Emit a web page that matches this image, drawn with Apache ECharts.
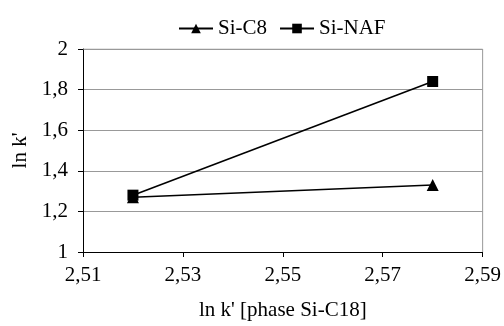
<!DOCTYPE html>
<html>
<head>
<meta charset="utf-8">
<script src="https://cdn.jsdelivr.net/npm/echarts@6/dist/echarts.min.js"></script>
<style>
  html, body { margin: 0; padding: 0; background: #fff; }
  #chart { width: 504px; height: 326px; }
</style>
</head>
<body>
<div id="chart"></div>
<script>
var xValues = [2.52, 2.58];
var siC8 = [1.27, 1.33];
var siNAF = [1.28, 1.84];
var seriesNames = ['Si-C8', 'Si-NAF'];

var font = '"Liberation Serif", "DejaVu Serif", serif';

function comma(v) {
  return String(Math.round(v * 100) / 100).replace('.', ',');
}
function pairs(ys) {
  return xValues.map(function (x, i) { return [x, ys[i]]; });
}

var myChart = echarts.init(document.getElementById('chart'));
var option = {
  animation: false,
  backgroundColor: '#fff',
  textStyle: { fontFamily: font, color: '#000' },
  legend: {
    top: 13,
    left: 173,
    itemWidth: 34,
    itemHeight: 12,
    itemGap: 12,
    lineStyle: { width: 2 },
    textStyle: { fontFamily: font, fontSize: 21, color: '#000' },
    data: seriesNames
  },
  grid: { left: 83, right: 21, top: 49, bottom: 72, containLabel: false },
  xAxis: {
    type: 'value',
    min: 2.51,
    max: 2.59,
    interval: 0.02,
    name: "ln k' [phase Si-C18]",
    nameLocation: 'middle',
    nameGap: 48,
    nameTextStyle: { fontFamily: font, fontSize: 21, color: '#000' },
    axisLine: { show: true, lineStyle: { color: '#000', width: 1 } },
    axisTick: { show: true, inside: false, length: 5, lineStyle: { color: '#000' } },
    axisLabel: { fontFamily: font, fontSize: 21, color: '#000', margin: 13, formatter: comma },
    splitLine: { show: false }
  },
  yAxis: {
    type: 'value',
    min: 1,
    max: 2,
    interval: 0.2,
    name: "ln k'",
    nameLocation: 'middle',
    nameGap: 52,
    nameTextStyle: { fontFamily: font, fontSize: 21, color: '#000' },
    axisLine: { show: true, lineStyle: { color: '#000', width: 1 } },
    axisTick: { show: true, inside: false, length: 5, lineStyle: { color: '#000' } },
    axisLabel: { fontFamily: font, fontSize: 21, color: '#000', margin: 15, formatter: comma },
    splitLine: { show: true, lineStyle: { color: '#999', width: 1 } }
  },
  series: [
    {
      name: seriesNames[0],
      type: 'line',
      data: pairs(siC8),
      symbol: 'triangle',
      symbolSize: 12,
      lineStyle: { color: '#000', width: 1.6 },
      itemStyle: { color: '#000' },
      z: 3
    },
    {
      name: seriesNames[1],
      type: 'line',
      data: pairs(siNAF),
      symbol: 'rect',
      symbolSize: 11,
      lineStyle: { color: '#000', width: 1.6 },
      itemStyle: { color: '#000' },
      z: 4
    },
    {
      // right/top frame of the plot area
      type: 'line',
      data: [[2.51, 2], [2.59, 2], [2.59, 1]],
      symbol: 'none',
      silent: true,
      lineStyle: { color: '#999', width: 1 },
      z: 1
    }
  ]
};
myChart.setOption(option, true);
window.addEventListener('resize', function () {
  myChart.resize();
});
</script>
</body>
</html>
